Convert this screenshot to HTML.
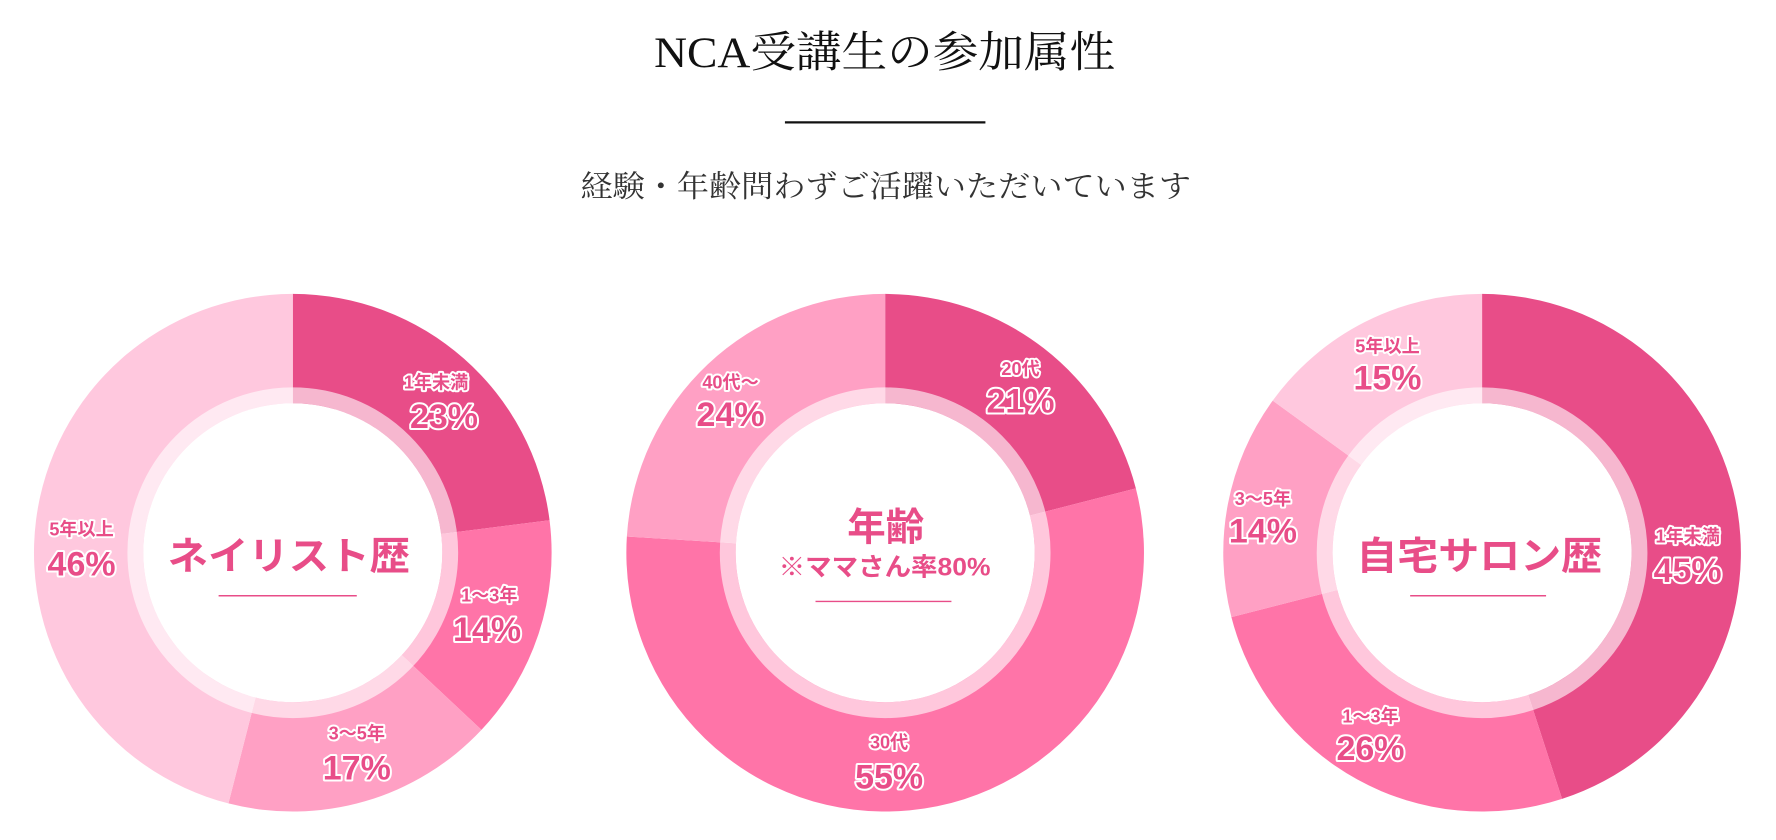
<!DOCTYPE html>
<html><head><meta charset="utf-8"><style>
html,body{margin:0;padding:0;background:#fff;width:1776px;height:840px;overflow:hidden}
svg{display:block}
.t{font-family:"Liberation Serif","Noto Serif CJK SC",serif;fill:#111}
.s{font-family:"Liberation Serif","Noto Serif CJK SC",serif;fill:#333}
.lb{font-family:"Liberation Sans","Noto Sans CJK JP",sans-serif;font-weight:bold;fill:#e84d88;stroke:#fff;stroke-width:3.5;stroke-linejoin:round;paint-order:stroke;text-anchor:middle}
.c{font-family:"Liberation Sans","Noto Sans CJK JP",sans-serif;font-weight:bold;fill:#e84d88;text-anchor:middle}
</style></head><body>
<svg id="s" width="1776" height="840" viewBox="0 0 1568 741.6" xmlns="http://www.w3.org/2000/svg">
<text class="t" x="781" y="59" font-size="38" text-anchor="middle" textLength="407" lengthAdjust="spacingAndGlyphs">NCA受講生の参加属性</text>
<line x1="693" y1="108" x2="870" y2="108" stroke="#111" stroke-width="2"/>
<text class="s" x="782" y="174" font-size="27" text-anchor="middle" textLength="539" lengthAdjust="spacingAndGlyphs">経験・年齢問わずご活躍いただいています</text>
<g id="charts"></g>
<g id="labels">
<text class="c" x="255" y="503" font-size="34" textLength="214" lengthAdjust="spacingAndGlyphs">ネイリスト歴</text>
<line x1="193" y1="526" x2="315" y2="526" stroke="#e84d88" stroke-width="1.3"/>
<text class="c" x="782" y="477" font-size="34">年齢</text>
<text class="c" x="781" y="508" font-size="22" textLength="187" lengthAdjust="spacingAndGlyphs">※ママさん率80%</text>
<line x1="720" y1="531" x2="840" y2="531" stroke="#e84d88" stroke-width="1.3"/>
<text class="c" x="1306" y="503" font-size="34" textLength="217" lengthAdjust="spacingAndGlyphs">自宅サロン歴</text>
<line x1="1245" y1="526" x2="1365" y2="526" stroke="#e84d88" stroke-width="1.3"/>

<text class="lb" x="385" y="343" font-size="16">1年未満</text><text class="lb" x="392" y="378" font-size="30">23%</text>
<text class="lb" x="432" y="531" font-size="16">1〜3年</text><text class="lb" x="430" y="566" font-size="30">14%</text>
<text class="lb" x="315" y="653" font-size="16">3〜5年</text><text class="lb" x="315" y="688" font-size="30">17%</text>
<text class="lb" x="72" y="473" font-size="16">5年以上</text><text class="lb" x="72" y="508" font-size="30">46%</text>

<text class="lb" x="901" y="331" font-size="16">20代</text><text class="lb" x="901" y="364" font-size="30">21%</text>
<text class="lb" x="785" y="661" font-size="16">30代</text><text class="lb" x="785" y="696" font-size="30">55%</text>
<text class="lb" x="645" y="343" font-size="16">40代〜</text><text class="lb" x="645" y="376" font-size="30">24%</text>

<text class="lb" x="1490" y="479" font-size="16">1年未満</text><text class="lb" x="1490" y="514" font-size="30">45%</text>
<text class="lb" x="1210" y="638" font-size="16">1〜3年</text><text class="lb" x="1210" y="671" font-size="30">26%</text>
<text class="lb" x="1115" y="446" font-size="16">3〜5年</text><text class="lb" x="1115" y="479" font-size="30">14%</text>
<text class="lb" x="1225" y="311" font-size="16">5年以上</text><text class="lb" x="1225" y="344" font-size="30">15%</text>
</g>
</svg>
<script>
var C=['#e84d88','#ff74a8','#ffa0c4','#ffc8de'];
var data=[[258.5,[23,14,17,46]],[781.5,[21,55,24]],[1308.5,[45,26,14,15]]];
var cy=488,R=228.5,g=document.getElementById('charts'),h='';
function pt(cx,r,p){var a=p/100*2*Math.PI;return [cx+r*Math.sin(a),cy-r*Math.cos(a)];}
data.forEach(function(d){var cx=d[0],acc=0;
 d[1].forEach(function(v,i){var a=pt(cx,R,acc),b=pt(cx,R,acc+v);
  h+='<path d="M'+cx+' '+cy+'L'+a[0]+' '+a[1]+'A'+R+' '+R+' 0 '+(v>50?1:0)+' 1 '+b[0]+' '+b[1]+'Z" fill="'+C[i]+'"/>';acc+=v;});
 h+='<circle cx="'+cx+'" cy="'+cy+'" r="139" fill="none" stroke="#fff" stroke-opacity="0.6" stroke-width="14"/>';
 h+='<circle cx="'+cx+'" cy="'+cy+'" r="132" fill="#fff"/>';
});
g.innerHTML=h;
</script>
</body></html>
